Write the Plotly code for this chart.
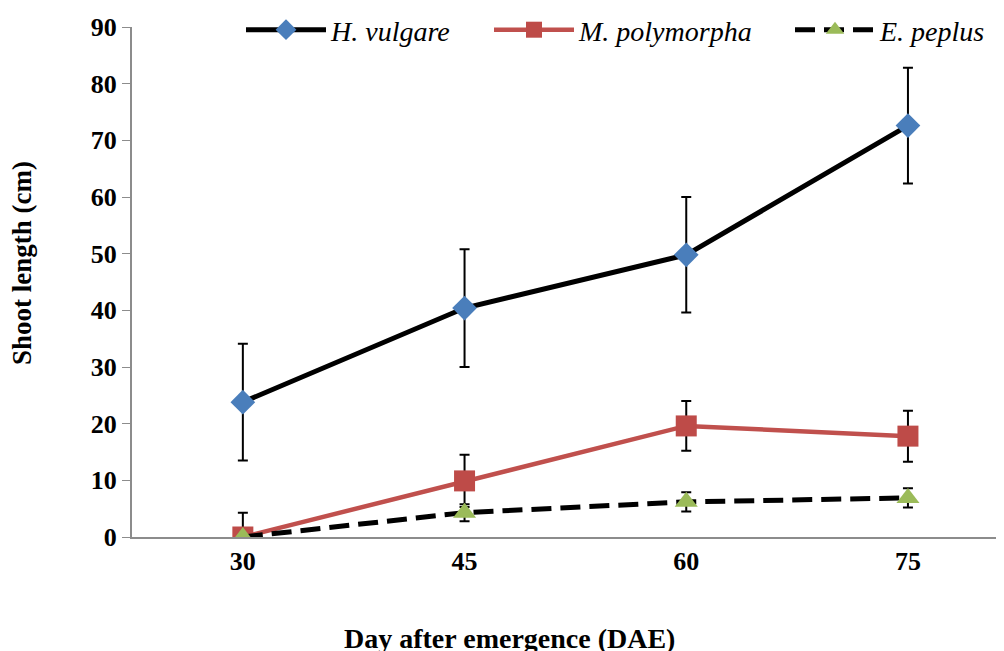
import plotly.graph_objects as go

days = ["30", "45", "60", "75"]
h_vulgare = [23.8, 40.4, 49.8, 72.6]
h_vulgare_err = [10.3, 10.4, 10.2, 10.2]
m_polymorpha = [0.0, 9.9, 19.6, 17.8]
m_polymorpha_err = [4.3, 4.6, 4.4, 4.5]
e_peplus = [0.0, 4.3, 6.2, 6.9]
e_peplus_err = [0.0, 1.5, 1.7, 1.7]

font_family = "Liberation Serif, Times New Roman, serif"
W, H = 996, 643
L, R, T, B = 124, 0, 0, 114
plot_h = H - T - B
plot_w = W - L - R
top_dom = (plot_h - 19) / plot_h
cat_px = 221.7
x_end = -0.5 + plot_w / cat_px

fig = go.Figure()
fig.add_trace(go.Scatter(
    x=days, y=h_vulgare, name="H. vulgare", mode="lines+markers", legend="legend",
    line=dict(color="black", width=5),
    marker=dict(symbol="diamond", size=19, color="#4a7ebb"),
    error_y=dict(type="data", array=h_vulgare_err, color="black", thickness=2, width=5),
))
fig.add_trace(go.Scatter(
    x=days, y=m_polymorpha, name="M. polymorpha", mode="lines+markers", legend="legend2",
    line=dict(color="#c0504d", width=4.5),
    marker=dict(symbol="square", size=21, color="#be4b48"),
    error_y=dict(type="data", array=m_polymorpha_err, color="black", thickness=2, width=5),
))
fig.add_trace(go.Scatter(
    x=days, y=e_peplus, name="E. peplus", mode="lines+markers", legend="legend3",
    line=dict(color="black", width=5, dash="20px,9px"),
    marker=dict(symbol="triangle-up", size=20, color="#9bbb59"),
    error_y=dict(type="data", array=e_peplus_err, color="black", thickness=2, width=5),
))

leg_y = (plot_h - 22) / plot_h


def leg(x_page):
    return dict(orientation="h", x=(x_page - 8 - L) / plot_w, xanchor="left", y=leg_y, yanchor="middle",
                font=dict(size=28, family=font_family, style="italic"),
                bgcolor="rgba(255,255,255,0)", itemwidth=80)


fig.update_layout(
    width=W, height=H,
    margin=dict(l=L, r=R, t=T, b=B, autoexpand=False),
    plot_bgcolor="white", paper_bgcolor="white",
    font=dict(family=font_family, color="black"),
    showlegend=True,
    legend=leg(241), legend2=leg(489), legend3=leg(790),
    xaxis=dict(type="category", range=[-0.5, x_end], showline=True, linecolor="#8c8c8c",
               linewidth=2, ticks="", showgrid=False, zeroline=False, automargin=False,
               tickfont=dict(size=26, family=font_family, weight="bold")),
    yaxis=dict(range=[0, 90], dtick=10, showline=True, linecolor="#8c8c8c", linewidth=2,
               domain=[0, top_dom], automargin=False,
               ticks="outside", ticklen=8, tickcolor="#8c8c8c", showgrid=False, zeroline=False,
               tickfont=dict(size=26, family=font_family, weight="bold")),
    annotations=[
        dict(text="<b>Day after emergence (DAE)</b>", xref="paper", yref="paper",
             x=(509 - 8 - L) / plot_w, y=-(630 - (H - B)) / plot_h,
             xanchor="center", yanchor="middle", showarrow=False,
             font=dict(size=28, family=font_family)),
        dict(text="<b>Shoot length (cm)</b>", xref="paper", yref="paper",
             x=-(L - 14) / plot_w, y=(H - B - (263 - 8)) / plot_h,
             xanchor="center", yanchor="middle", textangle=-90, showarrow=False,
             font=dict(size=27, family=font_family)),
    ],
)
fig.write_html("out.html")
